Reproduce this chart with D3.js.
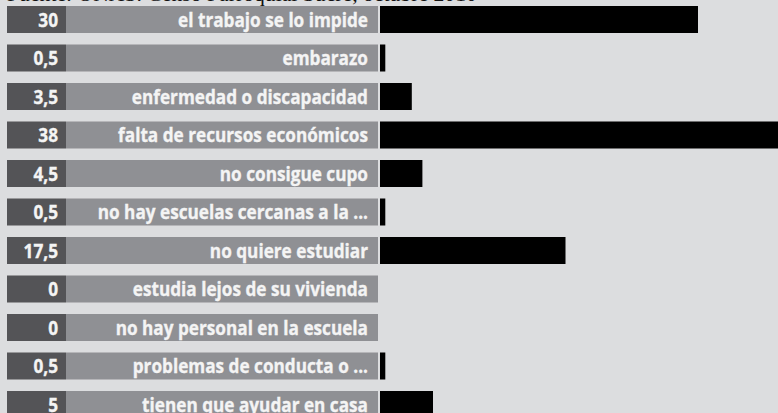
<!DOCTYPE html>
<html>
<head>
<meta charset="utf-8">
<script src="https://cdn.jsdelivr.net/npm/d3@7"></script>
<style>
  html, body { margin: 0; padding: 0; background: #dcdddf; overflow: hidden; }
  svg { display: block; }
</style>
</head>
<body>
<script>
const categories = [
  "el trabajo se lo impide",
  "embarazo",
  "enfermedad o discapacidad",
  "falta de recursos económicos",
  "no consigue cupo",
  "no hay escuelas cercanas a la ...",
  "no quiere estudiar",
  "estudia lejos de su vivienda",
  "no hay personal en la escuela",
  "problemas de conducta o ...",
  "tienen que ayudar en casa"
];
// bar lengths
const values = [30, 0.5, 3, 38, 4, 0.5, 17.5, 0, 0, 0.5, 5];
// value labels as printed
const valueLabels = ["30", "0,5", "3,5", "38", "4,5", "0,5", "17,5", "0", "0", "0,5", "5"];
const sourceText = "Fuente: ONAS. Censo Parroquial Sucre, octubre 2010";

const W = 778, H = 413;
const svg = d3.select("body").append("svg").attr("width", W).attr("height", H);
svg.append("rect").attr("width", W).attr("height", H).attr("fill", "#dcdddf");

const y = d3.scaleBand().domain(categories).range([6, 418]).paddingInner(0.2987).paddingOuter(0);
const x = d3.scaleLinear().domain([0, 38]).range([380, 380 + 38 * 10.6]);

const font = "'Open Sans', 'DejaVu Sans', sans-serif";
const fontSize = 19.5;

svg.append("text")
  .attr("x", 7).attr("y", 1)
  .attr("font-family", "'Liberation Serif', 'DejaVu Serif', serif")
  .attr("font-size", 21.7)
  .attr("fill", "#111")
  .text(sourceText);

// measure to derive a condensed horizontal scale
const probe = svg.append("text")
  .attr("font-family", font).attr("font-weight", 700).attr("font-size", fontSize)
  .text(categories[0]);
const sx = 190 / probe.node().getComputedTextLength();
probe.remove();

const rows = svg.selectAll("g.row").data(categories).join("g")
  .attr("class", "row")
  .attr("transform", d => `translate(0,${y(d)})`);

rows.append("rect").attr("x", 7).attr("width", 59).attr("height", y.bandwidth()).attr("fill", "#545457");
rows.append("rect").attr("x", 66).attr("width", 312).attr("height", y.bandwidth()).attr("fill", "#8f9094");
rows.append("rect")
  .attr("x", x(0))
  .attr("width", (d, i) => x(values[i]) - x(0))
  .attr("height", y.bandwidth())
  .attr("fill", "#000");

rows.append("g")
  .attr("transform", `translate(58,${y.bandwidth() / 2}) scale(${sx},1)`)
  .append("text")
  .attr("dy", "0.36em")
  .attr("text-anchor", "end")
  .attr("font-family", font).attr("font-weight", 700).attr("font-size", fontSize)
  .attr("fill", "#f4f4f4").attr("stroke", "#f4f4f4").attr("stroke-width", 0.35)
  .text((d, i) => valueLabels[i]);

rows.append("g")
  .attr("transform", `translate(368,${y.bandwidth() / 2}) scale(${sx},1)`)
  .append("text")
  .attr("dy", "0.36em")
  .attr("text-anchor", "end")
  .attr("font-family", font).attr("font-weight", 700).attr("font-size", fontSize)
  .attr("fill", "#f4f4f4").attr("stroke", "#f4f4f4").attr("stroke-width", 0.35)
  .text(d => d);
</script>
</body>
</html>
